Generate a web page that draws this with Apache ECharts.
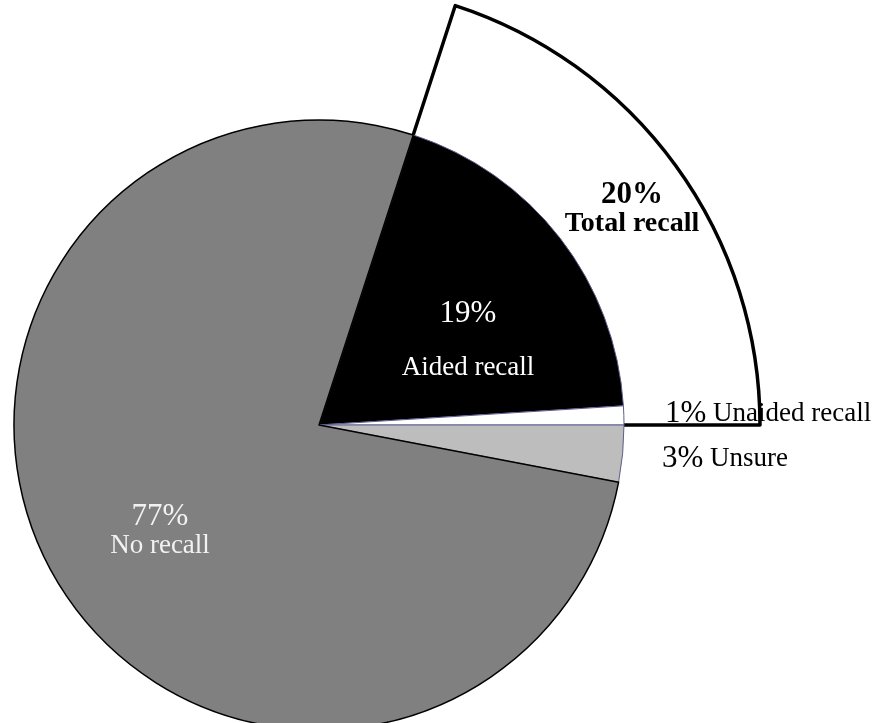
<!DOCTYPE html>
<html>
<head>
<meta charset="utf-8">
<script src="https://cdn.jsdelivr.net/npm/echarts@6/dist/echarts.min.js"></script>
<style>
  html, body { margin: 0; padding: 0; background: #ffffff; }
  #chart { width: 873px; height: 723px; }
</style>
</head>
<body>
<div id="chart"></div>
<script>
// Recall breakdown (percent of respondents)
const categories = ['Aided recall', 'Unaided recall', 'Unsure', 'No recall'];
const values = [19, 1, 3, 77];

// Combined slice drawn as an enlarged outline behind the pie
const totalName = 'Total recall';
const totalValue = 20;
const restValue = 80;

const FONT = "'Liberation Serif', 'Times New Roman', serif";

const sliceStyles = {
  'Aided recall':   { color: '#000000', borderColor: '#5e5e8e', borderWidth: 1 },
  'Unaided recall': { color: '#ffffff', borderColor: '#5e5e8e', borderWidth: 1 },
  'Unsure':         { color: '#bdbdbd', borderColor: '#5e5e8e', borderWidth: 1 },
  'No recall':      { color: '#808080', borderColor: '#000000', borderWidth: 1.5 }
};

const labelSpots = {
  'Aided recall':   { x: 468, y: 341, align: 'center' },
  'Unaided recall': { x: 665, y: 414, align: 'left' },
  'Unsure':         { x: 662, y: 459, align: 'left' },
  'No recall':      { x: 160, y: 531, align: 'center' }
};

const labelText = {
  'Aided recall': p => '{pw|' + p.value + '%}\n{nw|' + p.name + '}',
  'No recall': p => '{pw2|' + p.value + '%}\n{nw2|' + p.name + '}',
  'Unaided recall': p => '{pb|' + p.value + '%}{nb| ' + p.name + '}',
  'Unsure': p => '{pb|' + p.value + '%}{nb| ' + p.name + '}'
};

const mainData = categories.map((name, i) => ({
  name: name,
  value: values[i],
  itemStyle: sliceStyles[name]
}));

const chart = echarts.init(document.getElementById('chart'), null, { renderer: 'canvas' });

chart.setOption({
  backgroundColor: '#ffffff',
  animation: false,
  series: [
    {
      type: 'pie',
      z: 1,
      silent: true,
      center: [319, 425],
      radius: 441,
      startAngle: 72,
      clockwise: true,
      avoidLabelOverlap: false,
      emphasis: { disabled: true },
      labelLine: { show: false },
      data: [
        {
          name: totalName,
          value: totalValue,
          itemStyle: { color: '#ffffff', borderColor: '#000000', borderWidth: 3.5 },
          label: {
            show: true,
            formatter: p => '{pt|' + p.value + '%}\n{nt|' + p.name + '}',
            rich: {
              pt: { fontFamily: FONT, fontWeight: 'bold', fontSize: 31, color: '#000', lineHeight: 29, align: 'center' },
              nt: { fontFamily: FONT, fontWeight: 'bold', fontSize: 28, color: '#000', lineHeight: 29, align: 'center' }
            }
          }
        },
        {
          name: 'rest',
          value: restValue,
          itemStyle: { color: 'rgba(0,0,0,0)', borderWidth: 0 },
          label: { show: false }
        }
      ],
      labelLayout: () => ({ x: 632, y: 209, align: 'center', verticalAlign: 'middle' })
    },
    {
      type: 'pie',
      z: 2,
      silent: true,
      center: [319, 425],
      radius: 305,
      startAngle: 72,
      clockwise: true,
      avoidLabelOverlap: false,
      emphasis: { disabled: true },
      labelLine: { show: false },
      label: {
        show: true,
        formatter: p => labelText[p.name](p),
        rich: {
          pw: { fontFamily: FONT, fontSize: 31, color: '#ffffff', lineHeight: 54, align: 'center' },
          nw: { fontFamily: FONT, fontSize: 27, color: '#ffffff', lineHeight: 54, align: 'center' },
          pw2: { fontFamily: FONT, fontSize: 31, color: '#f2f2f2', lineHeight: 29, align: 'center' },
          nw2: { fontFamily: FONT, fontSize: 27, color: '#f2f2f2', lineHeight: 29, align: 'center' },
          pb: { fontFamily: FONT, fontSize: 31, color: '#000000' },
          nb: { fontFamily: FONT, fontSize: 27, color: '#000000' }
        }
      },
      data: mainData,
      labelLayout: params => {
        const s = labelSpots[categories[params.dataIndex]];
        return { x: s.x, y: s.y, align: s.align, verticalAlign: 'middle' };
      }
    }
  ]
});
</script>
</body>
</html>
